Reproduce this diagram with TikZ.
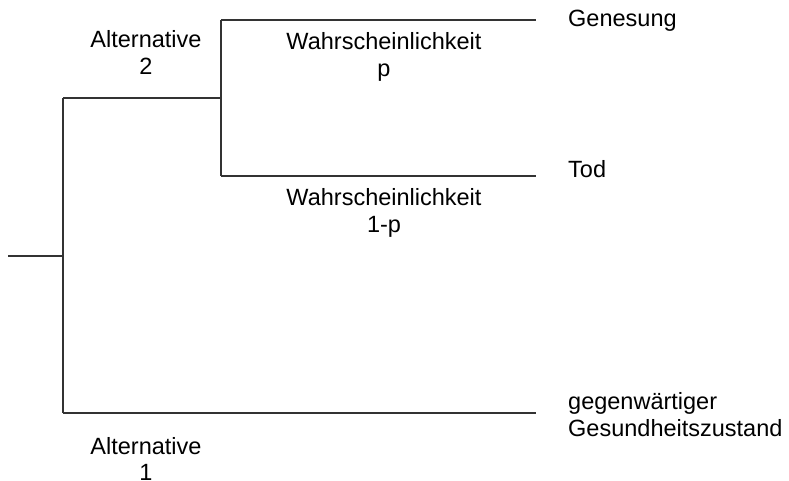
\documentclass[tikz,border=0pt]{standalone}
\usepackage{fontspec}
\setmainfont{Liberation Sans}
\definecolor{linegray}{HTML}{333333}
\begin{document}
\begin{tikzpicture}[x=1pt,y=-1pt,
  branch/.style={draw=linegray,line width=1.3pt},
  lbl/.style={inner sep=0pt,align=center,font=\fontsize{23.5}{27.5}\selectfont},
  outc/.style={inner sep=0pt,align=left,font=\fontsize{23.5}{27}\selectfont}]
\useasboundingbox (0,0) rectangle (789,481);
% junction points
\coordinate (root) at (8,256);
\coordinate (c1) at (63,256);
\coordinate (c1t) at (63,98);
\coordinate (c1b) at (63,413);
\coordinate (c2) at (221,98);
\coordinate (c2t) at (221,20);
\coordinate (c2b) at (221,176);
\coordinate (egen) at (536,20);
\coordinate (etod) at (536,176);
\coordinate (eges) at (536,413);
% connectors
\draw[branch] (root) -- (c1);
\draw[branch] (c1t) -- (c1b);
\draw[branch] (c1t) -- (c2);
\draw[branch] (c2t) -- (c2b);
\draw[branch] (c2t) -- (egen);
\draw[branch] (c2b) -- (etod);
\draw[branch] (c1b) -- (eges);
% labels
\node[lbl,anchor=north] (alt2) at (146,30) {Alternative\\2};
\node[lbl,anchor=north,font=\fontsize{23.5}{26.5}\selectfont] (alt1) at (146,437) {Alternative\\1};
\node[lbl,anchor=north] (wp) at (384,32) {Wahrscheinlichkeit\\p};
\node[lbl,anchor=north] (wq) at (384,188) {Wahrscheinlichkeit\\1-p};
\node[outc,anchor=base west] (gen) at (568,27) {Genesung};
\node[outc,anchor=base west] (tod) at (568,178) {Tod};
\node[outc,anchor=north west] (ges) at (568,392) {gegenwärtiger\\Gesundheitszustand};
\end{tikzpicture}
\end{document}
